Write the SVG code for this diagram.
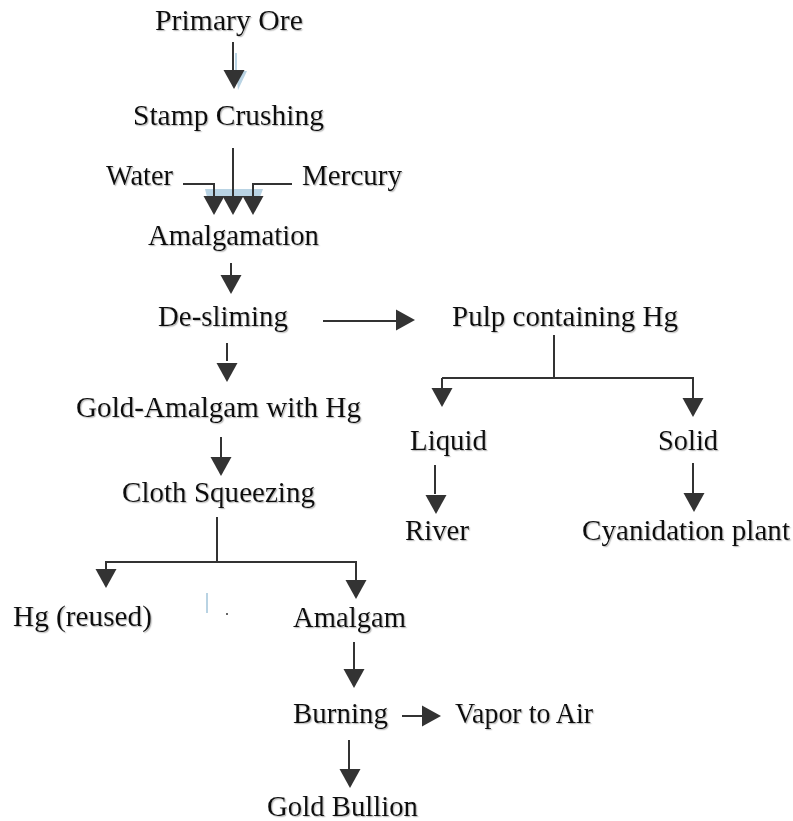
<svg xmlns="http://www.w3.org/2000/svg" xmlns:xlink="http://www.w3.org/1999/xlink" width="793" height="821" viewBox="0 0 793 821">
<defs>
<style>
.t{font-family:"Liberation Serif","Times New Roman",serif;font-size:29px;fill:#111;filter:url(#sh)}
.ln{fill:none;stroke:#333;stroke-width:2}
.ah{fill:#333}
.bl{fill:#b9d3e3;stroke:none}
.bls{fill:none;stroke:#b9d3e3;stroke-width:2}
</style>
<filter id="sh" x="-5%" y="-20%" width="110%" height="140%">
<feDropShadow dx="1.2" dy="1.2" stdDeviation="0.6" flood-color="#888" flood-opacity="0.55"/>
</filter>
<path id="ah" class="ah" d="M-10.5,-19 L10.5,-19 L0,0 Z"/>
</defs>
<rect width="793" height="821" fill="#fff"/>

<g id="artifacts">
<path class="bls" d="M236,53 V72"/>
<path class="bl" d="M236,71 L247,71 L238,90 Z"/>
<path class="bl" d="M205,189 L263,189 L260,197 L207,197 Z"/>
<path class="bls" d="M207,593 V613"/>
<circle cx="227" cy="614" r="1" fill="#333"/>
</g>

<g id="connectors">
<path class="ln" d="M233,42 V72"/>
<use href="#ah" x="234" y="89"/>
<path class="ln" d="M233,148 V198"/>
<path class="ln" d="M183,184 H214 V198"/>
<path class="ln" d="M292,184 H253 V198"/>
<use href="#ah" x="214" y="215"/>
<use href="#ah" x="233" y="215"/>
<use href="#ah" x="253" y="215"/>
<path class="ln" d="M231,263 V277"/>
<use href="#ah" x="231" y="294"/>
<path class="ln" d="M227,343 V361"/>
<use href="#ah" x="227" y="382"/>
<path class="ln" d="M323,321 H396"/>
<use href="#ah" transform="translate(415,320) rotate(-90)"/>
<path class="ln" d="M221,437 V457"/>
<use href="#ah" x="221" y="476"/>
<path class="ln" d="M217,517 V562"/>
<path class="ln" d="M105,562 H357"/>
<path class="ln" d="M106,562 V571"/>
<use href="#ah" x="106" y="588"/>
<path class="ln" d="M356,562 V581"/>
<use href="#ah" x="356" y="599"/>
<path class="ln" d="M354,642 V672"/>
<use href="#ah" x="354" y="688"/>
<path class="ln" d="M402,716 H423"/>
<use href="#ah" transform="translate(441,716) rotate(-90)"/>
<path class="ln" d="M349,740 V769"/>
<use href="#ah" x="350" y="788"/>
<path class="ln" d="M554,335 V378"/>
<path class="ln" d="M442,378 H694"/>
<path class="ln" d="M442,378 V389"/>
<use href="#ah" x="442" y="407"/>
<path class="ln" d="M693,378 V399"/>
<use href="#ah" x="693" y="417"/>
<path class="ln" d="M435,465 V494"/>
<use href="#ah" x="436" y="514"/>
<path class="ln" d="M693,463 V494"/>
<use href="#ah" x="694" y="512"/>
</g>

<g id="n-primary-ore"><text class="t" x="155" y="30" textLength="148" lengthAdjust="spacingAndGlyphs">Primary Ore</text></g>
<g id="n-stamp-crushing"><text class="t" x="133" y="125" textLength="191" lengthAdjust="spacingAndGlyphs">Stamp Crushing</text></g>
<g id="n-water"><text class="t" x="106" y="185" textLength="67" lengthAdjust="spacingAndGlyphs">Water</text></g>
<g id="n-mercury"><text class="t" x="302" y="185" textLength="100" lengthAdjust="spacingAndGlyphs">Mercury</text></g>
<g id="n-amalgamation"><text class="t" x="148" y="245" textLength="171" lengthAdjust="spacingAndGlyphs">Amalgamation</text></g>
<g id="n-de-sliming"><text class="t" x="158" y="326" textLength="130" lengthAdjust="spacingAndGlyphs">De-sliming</text></g>
<g id="n-gold-amalgam"><text class="t" x="76" y="417" textLength="285" lengthAdjust="spacingAndGlyphs">Gold-Amalgam with Hg</text></g>
<g id="n-cloth-squeezing"><text class="t" x="122" y="502" textLength="193" lengthAdjust="spacingAndGlyphs">Cloth Squeezing</text></g>
<g id="n-hg-reused"><text class="t" x="13" y="626" textLength="139" lengthAdjust="spacingAndGlyphs">Hg (reused)</text></g>
<g id="n-amalgam"><text class="t" x="293" y="627" textLength="113" lengthAdjust="spacingAndGlyphs">Amalgam</text></g>
<g id="n-burning"><text class="t" x="293" y="723" textLength="95" lengthAdjust="spacingAndGlyphs">Burning</text></g>
<g id="n-vapor"><text class="t" x="455" y="723" textLength="138" lengthAdjust="spacingAndGlyphs">Vapor to Air</text></g>
<g id="n-gold-bullion"><text class="t" x="267" y="816" textLength="151" lengthAdjust="spacingAndGlyphs">Gold Bullion</text></g>
<g id="n-pulp"><text class="t" x="452" y="326" textLength="226" lengthAdjust="spacingAndGlyphs">Pulp containing Hg</text></g>
<g id="n-liquid"><text class="t" x="410" y="450" textLength="77" lengthAdjust="spacingAndGlyphs">Liquid</text></g>
<g id="n-solid"><text class="t" x="658" y="450" textLength="60" lengthAdjust="spacingAndGlyphs">Solid</text></g>
<g id="n-river"><text class="t" x="405" y="540" textLength="64" lengthAdjust="spacingAndGlyphs">River</text></g>
<g id="n-cyanidation"><text class="t" x="582" y="540" textLength="208" lengthAdjust="spacingAndGlyphs">Cyanidation plant</text></g>
</svg>
